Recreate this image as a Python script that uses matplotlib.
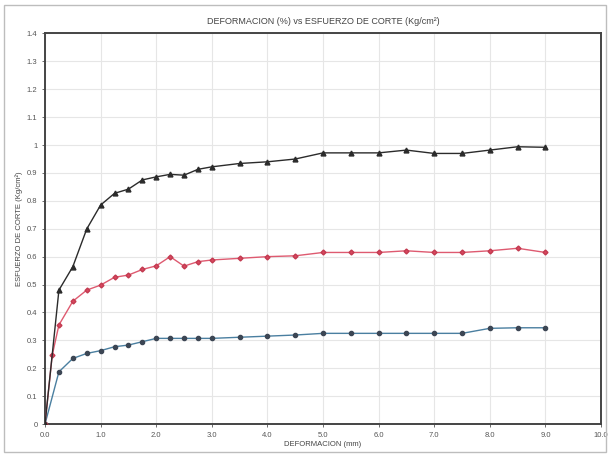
import matplotlib
matplotlib.use("Agg")
import matplotlib.pyplot as plt
from matplotlib.patches import Rectangle

# Data
x_black = [0, 0.25, 0.5, 0.75, 1.0, 1.25, 1.5, 1.75, 2.0, 2.25, 2.5, 2.75, 3.0,
           3.5, 4.0, 4.5, 5.0, 5.5, 6.0, 6.5, 7.0, 7.5, 8.0, 8.5, 9.0]
y_black = [0, 0.48, 0.564, 0.699, 0.785, 0.827, 0.842, 0.875, 0.886, 0.895, 0.892, 0.913, 0.922,
           0.934, 0.940, 0.950, 0.972, 0.972, 0.972, 0.982, 0.970, 0.970, 0.982, 0.994, 0.992]

x_red = [0, 0.13, 0.25, 0.5, 0.75, 1.0, 1.25, 1.5, 1.75, 2.0, 2.25, 2.5, 2.75, 3.0,
         3.5, 4.0, 4.5, 5.0, 5.5, 6.0, 6.5, 7.0, 7.5, 8.0, 8.5, 9.0]
y_red = [0, 0.247, 0.355, 0.44, 0.48, 0.498, 0.526, 0.534, 0.554, 0.567, 0.600, 0.566, 0.582, 0.588,
         0.594, 0.600, 0.603, 0.615, 0.615, 0.615, 0.621, 0.615, 0.615, 0.621, 0.630, 0.615]

x_blue = [0, 0.25, 0.5, 0.75, 1.0, 1.25, 1.5, 1.75, 2.0, 2.25, 2.5, 2.75, 3.0,
          3.5, 4.0, 4.5, 5.0, 5.5, 6.0, 6.5, 7.0, 7.5, 8.0, 8.5, 9.0]
y_blue = [0, 0.187, 0.235, 0.253, 0.263, 0.277, 0.283, 0.295, 0.307, 0.307, 0.307, 0.307, 0.307,
          0.311, 0.315, 0.319, 0.325, 0.325, 0.325, 0.325, 0.325, 0.325, 0.343, 0.345, 0.345]

x_ticks = [0, 1, 2, 3, 4, 5, 6, 7, 8, 9, 10]
x_ticklabels = ["0.0", "1.0", "2.0", "3.0", "4.0", "5.0", "6.0", "7.0", "8.0", "9.0", "10.0"]
y_ticks = [0, 0.1, 0.2, 0.3, 0.4, 0.5, 0.6, 0.7, 0.8, 0.9, 1.0, 1.1, 1.2, 1.3, 1.4]
y_ticklabels = ["0", "0.1", "0.2", "0.3", "0.4", "0.5", "0.6", "0.7", "0.8", "0.9", "1",
                "1.1", "1.2", "1.3", "1.4"]

plt.rcParams['font.family'] = ['Liberation Sans', 'DejaVu Sans']

fig = plt.figure(figsize=(6.1, 4.57), dpi=100)
fig.patch.set_facecolor("white")
fig.patches.append(Rectangle((0.006, 0.012), 0.988, 0.976, transform=fig.transFigure,
                             fill=False, edgecolor="#bdbdbd", linewidth=1.0))

ax = fig.add_axes([0.0738, 0.0722, 0.9115, 0.8545])
ax.set_xlim(0, 10)
ax.set_ylim(0, 1.4)
ax.set_xticks(x_ticks)
ax.set_xticklabels(x_ticklabels)
ax.set_yticks(y_ticks)
ax.set_yticklabels(y_ticklabels)
ax.grid(True, color="#e6e6e6", linewidth=0.8)
ax.set_axisbelow(True)
for s in ax.spines.values():
    s.set_color("#444444")
    s.set_linewidth(1.4)
ax.tick_params(axis="both", labelsize=5.5, colors="#555555", length=2, width=0.6)

ax.plot(x_blue, y_blue, color="#4a7fa0", linewidth=1.0, marker="o", markersize=3,
        markerfacecolor="#3c4654", markeredgecolor="#3c4654", zorder=3)
ax.plot(x_red, y_red, color="#de5a70", linewidth=1.0, marker="D", markersize=2.5,
        markerfacecolor="#d9475f", markeredgecolor="#c23a50", zorder=3)
ax.plot(x_black, y_black, color="#2b2b2b", linewidth=1.0, marker="^", markersize=3.5,
        markerfacecolor="#2b2b2b", markeredgecolor="#2b2b2b", zorder=4)

ax.set_title("DEFORMACION (%) vs ESFUERZO DE CORTE (Kg/cm²)", fontsize=6.5,
             color="#444444", pad=7)
ax.set_xlabel("DEFORMACION (mm)", fontsize=5.5, color="#444444", labelpad=2)
ax.set_ylabel("ESFUERZO DE CORTE (Kg/cm²)", fontsize=5.5, color="#444444", labelpad=3)

fig.savefig("out.png", dpi=100)
